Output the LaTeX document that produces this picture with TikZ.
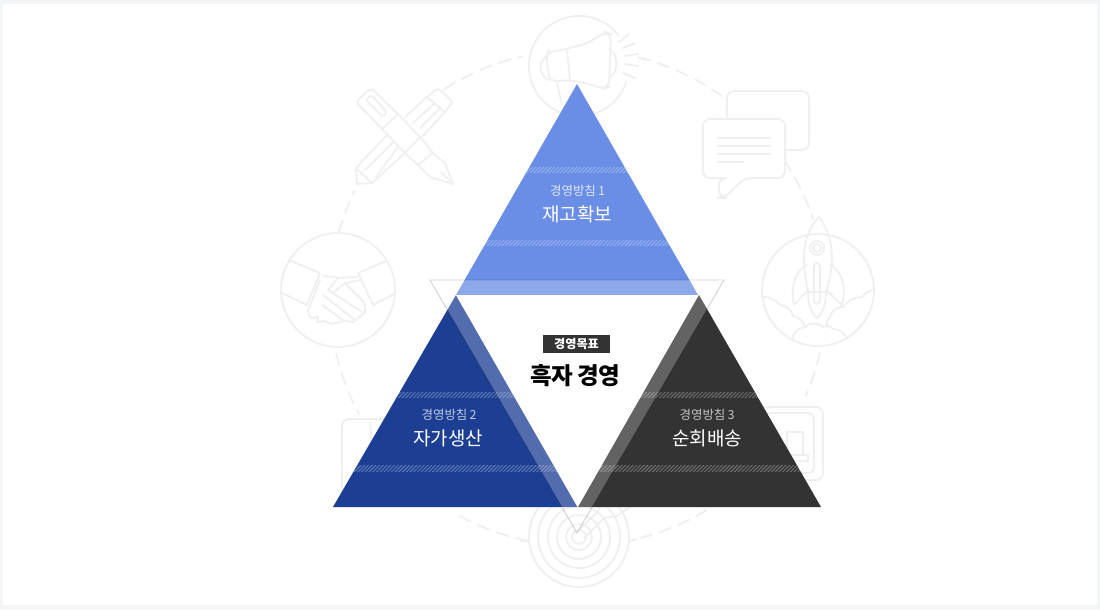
\documentclass[tikz,border=0pt]{standalone}
\usepackage{fontspec}
\setmainfont{Noto Sans CJK KR}
\usetikzlibrary{patterns.meta}

\definecolor{frameGray}{HTML}{F4F5F7}
\definecolor{iconGray}{HTML}{EFEFEF}
\definecolor{goalBlue}{HTML}{6A8EE6}
\definecolor{goalNavy}{HTML}{1C3F94}
\definecolor{goalDark}{HTML}{333333}

\tikzset{
	icon/.style = {draw = iconGray, line width = 1pt, line join = round, line cap = round},
	hatch/.style = {pattern = {Lines[angle = 45, distance = 1.5pt, line width = .55pt]}, pattern color = white, opacity = .3},
	smallLabel/.style = {font = \fontsize{7.1}{8}\selectfont, inner sep = 0pt},
	bigLabel/.style = {font = \fontsize{10.8}{12}\selectfont, text = white, inner sep = 0pt}
}

\begin{document}
\begin{tikzpicture}[x = .02cm, y = -.02cm]
	\def\bandTop{280}
	\def\baseTop{295}
	\def\baseLow{507}

	\useasboundingbox (0,0) rectangle (1100,610);
	\fill [frameGray] (0,0) rectangle (1100,610);
	\fill [white] (3,4) rectangle (1097,605);

	% dashed ring between the icons
	\foreach \arcFrom/\arcTo in {76/53.7, 33.7/18.7, -12.7/-23.3, -58.7/-77.5, -101.6/-120, 192.9/208, 164.6/154.4, 122.6/103}
		\draw [icon, dash pattern = on 7pt off 4.5pt] plot [domain = \arcFrom:\arcTo, samples = 24, smooth, variable = \t] ({578 + 248*cos(\t)},{298 - 248*sin(\t)});

	% megaphone
	\begin{scope}[icon]
		\draw plot [domain = 37:342, samples = 60, smooth, variable = \t] ({579 + 50*cos(\t)},{66 - 50*sin(\t)});
		\draw [rounded corners = 4pt] (546,56) -- (548,52) -- (567,49) -- (588,43) -- (605,32) -- (611,34) -- (609,87) -- (603,89) -- (590,84) -- (568,80) -- (550,82) -- cycle;
		\draw (567,49) -- (570,80);
		\draw (546,57) .. controls (538,62) and (538,75) .. (549,80);
		\draw (609,48) .. controls (619,55) and (619,72) .. (609,78);
		\draw (557,83) -- (562,105);
		\draw (619,42) -- (629,34);
		\draw (623,48) -- (635,43);
		\draw (625,56) -- (638,54);
		\draw (625,64) -- (638,66);
		\draw (623,73) -- (635,78);
	\end{scope}

	% crossed pens
	\begin{scope}[icon]
		\draw [rounded corners = 2pt] (398,114) -- (371,88) -- (356,102) -- (382,129);
		\draw [rounded corners = 1pt] (366,100) -- (371,95) -- (387,112) -- (383,117) -- cycle;
		\draw (398,114) -- (382,129) -- (405,153) -- (420,137) -- cycle;
		\draw (420,137) -- (433,153) -- (418,165) -- (405,153);
		\draw (418,165) -- (430,177) -- (453,184) -- (445,163) -- (433,153);
		\draw (453,184) -- (441,172);
		\draw [rounded corners = 2pt] (405,117) -- (427,97) -- (438,88) -- (453,102) -- (445,112) -- (422,137);
		\draw (427,97) -- (445,112);
		\draw (413,123) -- (435,103);
		\draw (420,128) -- (440,108);
		\draw (387,135) -- (356,168) -- (372,183) -- (405,153);
		\draw (365,170) -- (393,142);
		\draw (376,177) -- (398,147);
		\draw (356,168) -- (357,184) -- (372,183);
	\end{scope}

	% speech bubbles
	\begin{scope}[icon]
		\draw [rounded corners = 4pt] (727,119) -- (727,91) -- (809,91) -- (809,150) -- (785,150);
		\draw [rounded corners = 4pt] (730,178) -- (703,178) -- (703,119) -- (785,119) -- (785,178) -- (745,178) -- (724,198) -- (719,198) -- (719,178) -- cycle;
		\draw (718,138) -- (770,138);
		\draw (718,146) -- (770,146);
		\draw (718,154) -- (770,154);
		\draw (718,162) -- (743,162);
	\end{scope}

	% rocket
	\begin{scope}[icon]
		\draw (818,290) circle [radius = 56];
		\draw (819,217) .. controls (810,226) and (804,240) .. (804,258) .. controls (804,270) and (806,282) .. (808,292) -- (826,292) .. controls (830,280) and (832,268) .. (832,258) .. controls (832,240) and (826,226) .. (819,217);
		\draw (807,265) .. controls (796,270) and (790,285) .. (794,305) -- (808,290);
		\draw (830,265) .. controls (841,270) and (847,285) .. (842,305) -- (826,290);
		\draw (817,248) circle [radius = 7];
		\draw (817,248) circle [radius = 4];
		\draw [rounded corners = 2pt] (814,263) rectangle (820,304);
		\draw (808,293) .. controls (808,305) and (812,314) .. (817,318) .. controls (822,314) and (826,305) .. (826,293);
		\draw (762,297) to [bend left = 25] (780,305) to [bend left = 35] (793,316) to [bend left = 30] (805,327) to [bend right = 50] (793,341);
		\draw (805,327) to [bend left = 45] (823,327) to [bend left = 40] (833,329) to [bend left = 30] (847,338);
		\draw (827,327) to [bend left = 25] (830,317) to [bend left = 40] (843,307) to [bend left = 25] (862,297) to [bend left = 20] (873,290);
	\end{scope}

	% handshake
	\begin{scope}[icon]
		\draw (338,290) circle [radius = 57];
		\draw (291,261) -- (320,273) -- (307,305) -- (282,293);
		\draw (386,261) -- (358,273) -- (373,305) -- (394,294);
		\draw (323,276) -- (335,277) -- (338,278) -- (328,290) -- (333,293) -- (345,283) -- (362,300) -- (365,305);
		\draw (338,278) -- (357,277);
		\draw (323,295) -- (355,320);
		\draw (322,305) -- (343,320);
		\draw (333,293) -- (362,312);
		\draw (345,283) -- (360,280);
		\draw plot [smooth] coordinates {(308,311) (311,318) (318,317) (317,322) (325,321) (330,324) (340,322) (346,321) (353,322) (358,318) (365,312) (364,303)};
		\draw (320,280) -- (308,311);
	\end{scope}

	% target
	\begin{scope}[icon]
		\draw (579,537) circle [radius = 50];
		\draw (579,537) circle [radius = 41];
		\draw (579,537) circle [radius = 31];
		\draw (579,537) circle [radius = 22];
		\draw (579,537) circle [radius = 13];
		\draw (579,537) circle [radius = 7];
		\draw (584,538) -- (604,518) -- (617,516) -- (630,507);
		\draw (578,531) -- (598,511) -- (600,507);
		\draw (521,541) -- (529,541);
		\draw (629,541) -- (637,539);
	\end{scope}

	% boards behind the lower triangles
	\begin{scope}[icon]
		\draw [rounded corners = 4pt] (735,407) rectangle (823,480);
		\draw [rounded corners = 3pt] (745,413) rectangle (814,473);
		\draw (787,432) rectangle (803,455);
		\draw (760,455) rectangle (808,461);
		\draw [rounded corners = 4pt] (342,500) -- (342,419) -- (400,419);
		\draw (370,423) -- (372,450);
	\end{scope}

	% the three triangles
	\fill [goalBlue] (577,84) -- (698,\baseTop) -- (456,\baseTop) -- cycle;
	\fill [goalNavy] (456,\baseTop) -- (578,\baseLow) -- (333,\baseLow) -- cycle;
	\fill [goalDark] (699,\baseTop) -- (821,\baseLow) -- (578,\baseLow) -- cycle;

	% big turned triangle over them, and the white one in the middle
	\fill [white, opacity = .24] (430,\bandTop) -- (724,\bandTop) -- (577,533) -- cycle;
	\draw [black, draw opacity = .18, line width = .5pt] (430,\bandTop) -- (724,\bandTop) -- (577,533) -- cycle;
	\fill [white] (456,\baseTop) -- (698,\baseTop) -- (577.5,\baseLow) -- cycle;

	% hatched stripes
	\fill [hatch] (280,167) rectangle (880,172);
	\fill [hatch] (280,240) rectangle (880,245);
	\fill [hatch] (280,392) rectangle (880,397);
	\fill [hatch] (280,465) rectangle (880,471);

	\node [smallLabel, text = white!78!goalBlue] (policyOne) at (577.5,191) {경영방침\,1};
	\node [bigLabel] (titleOne) at (577,214.5) {재고확보};
	\node [smallLabel, text = white!72!goalNavy] (policyTwo) at (449,415) {경영방침\,2};
	\node [bigLabel] (titleTwo) at (448,438.5) {자가생산};
	\node [smallLabel, text = white!72!goalDark] (policyThree) at (707,415) {경영방침\,3};
	\node [bigLabel] (titleThree) at (707,438.5) {순회배송};

	\node [fill = goalDark, text = white, font = \fontsize{6.9}{8}\bfseries\selectfont, minimum width = 38pt, minimum height = 10.2pt, inner sep = 0pt] (goalTag) at (576.5,344) {경영목표};
	\node [font = \fontsize{13.4}{15}\bfseries\selectfont\addfontfeatures{LetterSpace = -3.5}, inner sep = 0pt] (goalTitle) at (575,376) {흑자 경영};
\end{tikzpicture}
\end{document}
